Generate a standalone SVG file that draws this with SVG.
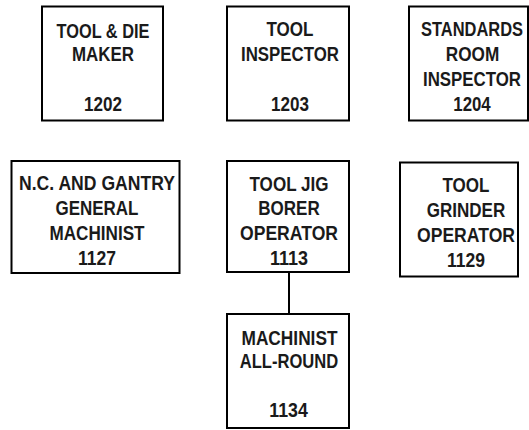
<svg xmlns="http://www.w3.org/2000/svg" width="529" height="430" viewBox="0 0 529 430">
<style>
rect.n{fill:#fff;stroke:#000;stroke-width:2}
text{font-family:"Liberation Sans",Arial,sans-serif;font-weight:bold;font-size:20px;fill:#1a1a1a;text-anchor:middle}
.c{stroke:#000;stroke-width:2;fill:none}
</style>
<rect width="529" height="430" fill="#fff"/>
<g id="connectors">
<line class="c" x1="289" y1="272" x2="289" y2="314"/>
</g>
<g id="n1202">
<rect class="n" x="42" y="6.5" width="121" height="114"/>
<text x="103" y="37.5" textLength="93" lengthAdjust="spacingAndGlyphs">TOOL &amp; DIE</text>
<text x="103" y="61" textLength="62" lengthAdjust="spacingAndGlyphs">MAKER</text>
<text x="103" y="111" textLength="38" lengthAdjust="spacingAndGlyphs">1202</text>
</g>
<g id="n1203">
<rect class="n" x="227" y="6.5" width="122" height="114"/>
<text x="290" y="36" textLength="47" lengthAdjust="spacingAndGlyphs">TOOL</text>
<text x="290" y="61" textLength="98" lengthAdjust="spacingAndGlyphs">INSPECTOR</text>
<text x="290" y="111" textLength="38" lengthAdjust="spacingAndGlyphs">1203</text>
</g>
<g id="n1204">
<rect class="n" x="409" y="6.5" width="119" height="114"/>
<g transform="matrix(0.82 0 0 1 84.96 0)">
<text x="472" y="36" textLength="124.4" lengthAdjust="spacingAndGlyphs">STANDARDS</text>
<text x="472.6" y="61" textLength="65.2" lengthAdjust="spacingAndGlyphs">ROOM</text>
<text x="472" y="86.5" textLength="119.5" lengthAdjust="spacingAndGlyphs">INSPECTOR</text>
<text x="472" y="111" textLength="45.7" lengthAdjust="spacingAndGlyphs">1204</text>
</g>
</g>
<g id="n1127">
<rect class="n" x="11.5" y="161" width="168" height="112"/>
<text x="97" y="190" textLength="156" lengthAdjust="spacingAndGlyphs">N.C. AND GANTRY</text>
<text x="97" y="215" textLength="83" lengthAdjust="spacingAndGlyphs">GENERAL</text>
<text x="97" y="239.5" textLength="95" lengthAdjust="spacingAndGlyphs">MACHINIST</text>
<text x="97" y="265" textLength="38" lengthAdjust="spacingAndGlyphs">1127</text>
</g>
<g id="n1113">
<rect class="n" x="227" y="161" width="122" height="111"/>
<text x="289" y="190.5" textLength="79" lengthAdjust="spacingAndGlyphs">TOOL JIG</text>
<text x="289" y="215" textLength="61.5" lengthAdjust="spacingAndGlyphs">BORER</text>
<text x="289" y="240" textLength="98" lengthAdjust="spacingAndGlyphs">OPERATOR</text>
<text x="289" y="265" textLength="38" lengthAdjust="spacingAndGlyphs">1113</text>
</g>
<g id="n1129">
<rect class="n" x="400" y="162.5" width="118" height="114"/>
<text x="466" y="191.5" textLength="47" lengthAdjust="spacingAndGlyphs">TOOL</text>
<text x="466" y="217" textLength="78.5" lengthAdjust="spacingAndGlyphs">GRINDER</text>
<text x="466" y="242" textLength="98" lengthAdjust="spacingAndGlyphs">OPERATOR</text>
<text x="466" y="266.5" textLength="38" lengthAdjust="spacingAndGlyphs">1129</text>
</g>
<g id="n1134">
<rect class="n" x="227" y="314" width="122" height="114"/>
<text x="289.5" y="345" textLength="96" lengthAdjust="spacingAndGlyphs">MACHINIST</text>
<text x="289" y="368" textLength="98.5" lengthAdjust="spacingAndGlyphs">ALL-ROUND</text>
<text x="288.5" y="417" textLength="38.5" lengthAdjust="spacingAndGlyphs">1134</text>
</g>
</svg>
